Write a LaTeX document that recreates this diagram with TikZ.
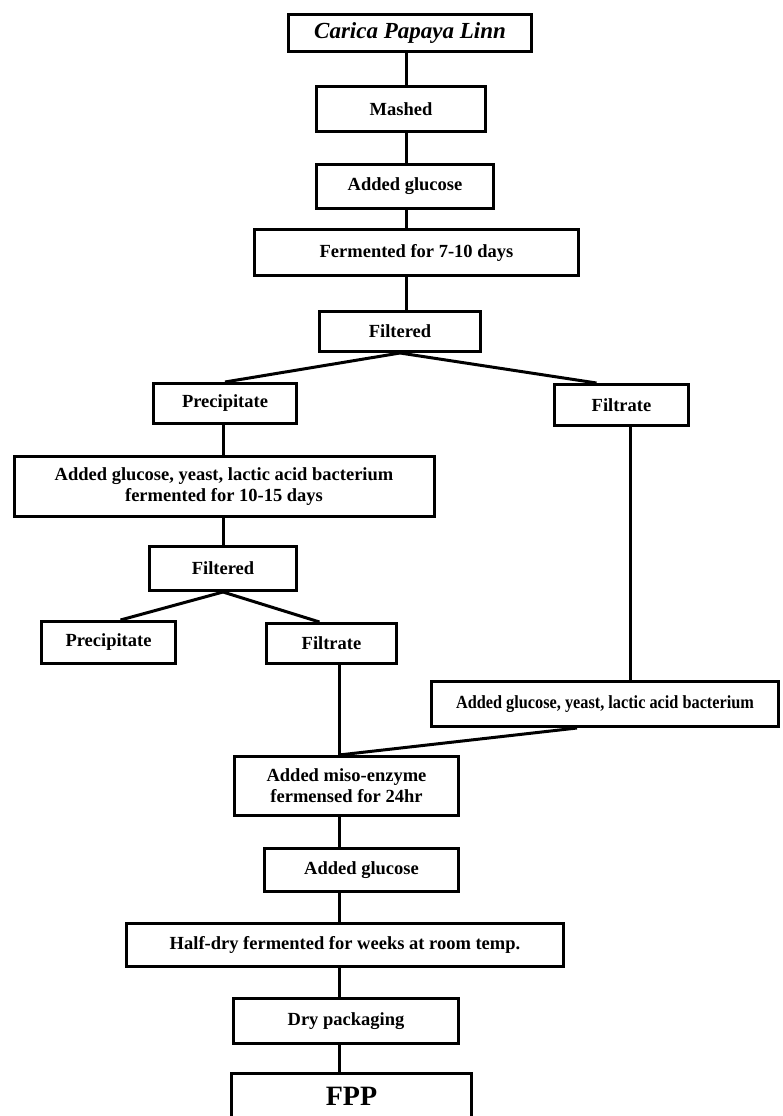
\documentclass[tikz,border=0pt]{standalone}
\usepackage{fontspec}
\setmainfont{Liberation Serif}
\tikzset{
  box/.style={draw, line width=3pt, inner sep=0pt, align=center,
    font=\fontsize{18.5}{21}\selectfont\bfseries},
  conn/.style={line width=3pt},
}
\begin{document}
\begin{tikzpicture}[x=1pt,y=-1pt]
\useasboundingbox (0,0) rectangle (783,1116);
\coordinate (c1) at (406,0);
\coordinate (c2) at (223,0);
\coordinate (c3) at (630,0);
\coordinate (c4) at (339,0);

\node[box, minimum width=243, minimum height=37, font=\fontsize{23}{26}\selectfont\bfseries\itshape] (carica) at (410,33) {Carica Papaya Linn};
\node[box, minimum width=169, minimum height=45] (mashed) at (401,109) {Mashed};
\node[box, minimum width=177, minimum height=44] (gluc1) at (405,186.5) {Added glucose};
\node[box, minimum width=324, minimum height=46] (ferm1) at (416.5,252.5) {Fermented for 7-10 days};
\node[box, minimum width=161, minimum height=40] (filt1) at (400,331.5) {Filtered};
\node[box, minimum width=143, minimum height=40] (prec1) at (225,403.5) {Precipitate};
\node[box, minimum width=134, minimum height=41] (filtr1) at (621.5,405) {Filtrate};
\node[box, minimum width=420, minimum height=60] (add2) at (224,486.5) {Added glucose, yeast, lactic acid bacterium\\fermented for 10-15 days};
\node[box, minimum width=147, minimum height=44] (filt2) at (223,568.5) {Filtered};
\node[box, minimum width=134, minimum height=42] (prec2) at (108.5,642.5) {Precipitate};
\node[box, minimum width=130, minimum height=40] (filtr2) at (331.5,643.5) {Filtrate};
\node[box, minimum width=347, minimum height=45] (add3) at (605,704) {\scalebox{0.88}[1]{Added glucose, yeast, lactic acid bacterium}};
\node[box, minimum width=224, minimum height=59] (miso) at (346.5,786) {Added miso-enzyme\\fermensed for 24hr};
\node[box, minimum width=194, minimum height=43] (gluc3) at (361.5,870) {Added glucose};
\node[box, minimum width=437, minimum height=43] (half) at (345,945) {Half-dry fermented for weeks at room temp.};
\node[box, minimum width=225, minimum height=45] (dry) at (346,1021) {Dry packaging};
\node[box, minimum width=240, minimum height=46, font=\fontsize{28}{30}\selectfont\bfseries] (fpp) at (351.5,1096) {FPP};

\draw[conn] (carica.south -| c1) -- (mashed.north -| c1);
\draw[conn] (mashed.south -| c1) -- (gluc1.north -| c1);
\draw[conn] (gluc1.south -| c1) -- (ferm1.north -| c1);
\draw[conn] (ferm1.south -| c1) -- (filt1.north -| c1);
\draw[conn] (filt1.south) -- (prec1.north);
\draw[conn] (filt1.south) -- ([xshift=-25pt]filtr1.north);
\draw[conn] (prec1.south -| c2) -- (add2.north -| c2);
\draw[conn] (add2.south -| c2) -- (filt2.north -| c2);
\draw[conn] (filt2.south) -- ([xshift=12pt]prec2.north);
\draw[conn] (filt2.south) -- ([xshift=-12pt]filtr2.north);
\draw[conn] (filtr1.south -| c3) -- (add3.north -| c3);
\draw[conn] (filtr2.south -| c4) -- (miso.north -| c4);
\draw[conn] ([xshift=-28pt]add3.south) -- (miso.north -| c4);
\draw[conn] (miso.south -| c4) -- (gluc3.north -| c4);
\draw[conn] (gluc3.south -| c4) -- (half.north -| c4);
\draw[conn] (half.south -| c4) -- (dry.north -| c4);
\draw[conn] (dry.south -| c4) -- (fpp.north -| c4);
\end{tikzpicture}
\end{document}
